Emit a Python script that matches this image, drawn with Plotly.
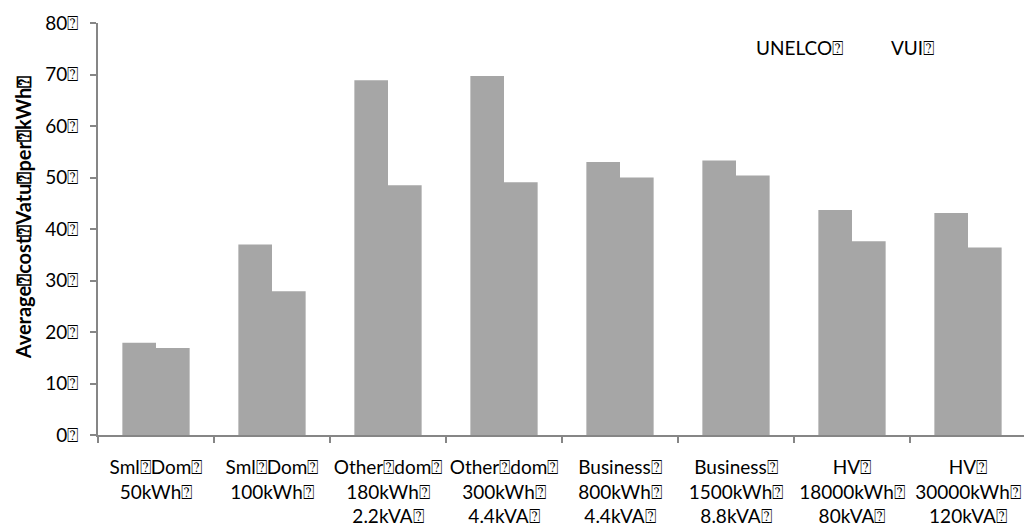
import plotly.graph_objects as go

Q = "\u2370"
categories = [
    f"Sml{Q}Dom{Q}<br>50kWh{Q}",
    f"Sml{Q}Dom{Q}<br>100kWh{Q}",
    f"Other{Q}dom{Q}<br>180kWh{Q}<br>2.2kVA{Q}",
    f"Other{Q}dom{Q}<br>300kWh{Q}<br>4.4kVA{Q}",
    f"Business{Q}<br>800kWh{Q}<br>4.4kVA{Q}",
    f"Business{Q}<br>1500kWh{Q}<br>8.8kVA{Q}",
    f"HV{Q}<br>18000kWh{Q}<br>80kVA{Q}",
    f"HV{Q}<br>30000kWh{Q}<br>120kVA{Q}",
]
unelco = [17.9, 37.0, 68.9, 69.7, 53.0, 53.3, 43.7, 43.1]
vui = [16.9, 27.9, 48.5, 49.1, 50.0, 50.4, 37.6, 36.4]
series_names = [f"UNELCO{Q}", f"VUI{Q}"]
y_ticks = [0, 10, 20, 30, 40, 50, 60, 70, 80]
y_title = f"Average{Q}cost{Q}Vatu{Q}per{Q}kWh{Q}"

FONT = "Lato, Open Sans, sans-serif"
BAR = "#a6a6a6"
AX = "#868686"
FS = 19

fig = go.Figure()
for name, vals in zip(series_names, [unelco, vui]):
    fig.add_trace(go.Bar(x=categories, y=vals, name=name, marker_color=BAR,
                         marker_line_width=0, showlegend=False))

fig.update_layout(
    width=1032, height=532,
    margin=dict(l=90, r=14, t=15, b=105, autoexpand=False),
    paper_bgcolor="white", plot_bgcolor="white",
    barmode="group", bargap=0.42, bargroupgap=0,
    font=dict(family=FONT, size=FS, color="black"),
)
fig.update_xaxes(
    showline=True, linecolor=AX, linewidth=2,
    ticks="outside", ticklen=6, tickcolor=AX, tickwidth=2,
    tickson="boundaries", showgrid=False, ticklabelstandoff=14,
    tickangle=0, automargin=False,
    tickfont=dict(family=FONT, size=FS, color="black"),
)
fig.update_yaxes(
    range=[0, 80], tickvals=y_ticks,
    ticktext=[f"{v}{Q}" for v in y_ticks],
    showline=True, linecolor=AX, linewidth=2,
    ticks="outside", ticklen=6, tickcolor=AX, tickwidth=2,
    showgrid=False, zeroline=False, ticklabelstandoff=8, automargin=False,
    tickfont=dict(family=FONT, size=FS, color="black"),
)
fig.add_annotation(text=f"<b>{y_title}</b>", xref="paper", yref="paper",
                   x=-0.0805, y=0.529, xanchor="center", yanchor="middle",
                   textangle=-90, showarrow=False,
                   font=dict(family=FONT, size=20, color="black"))
for name, xpos in zip(series_names, [0.707, 0.852]):
    fig.add_annotation(text=name, xref="paper", yref="paper", x=xpos, y=0.94,
                       xanchor="left", yanchor="middle", showarrow=False,
                       font=dict(family=FONT, size=FS, color="black"))

fig.write_html("out.html")
